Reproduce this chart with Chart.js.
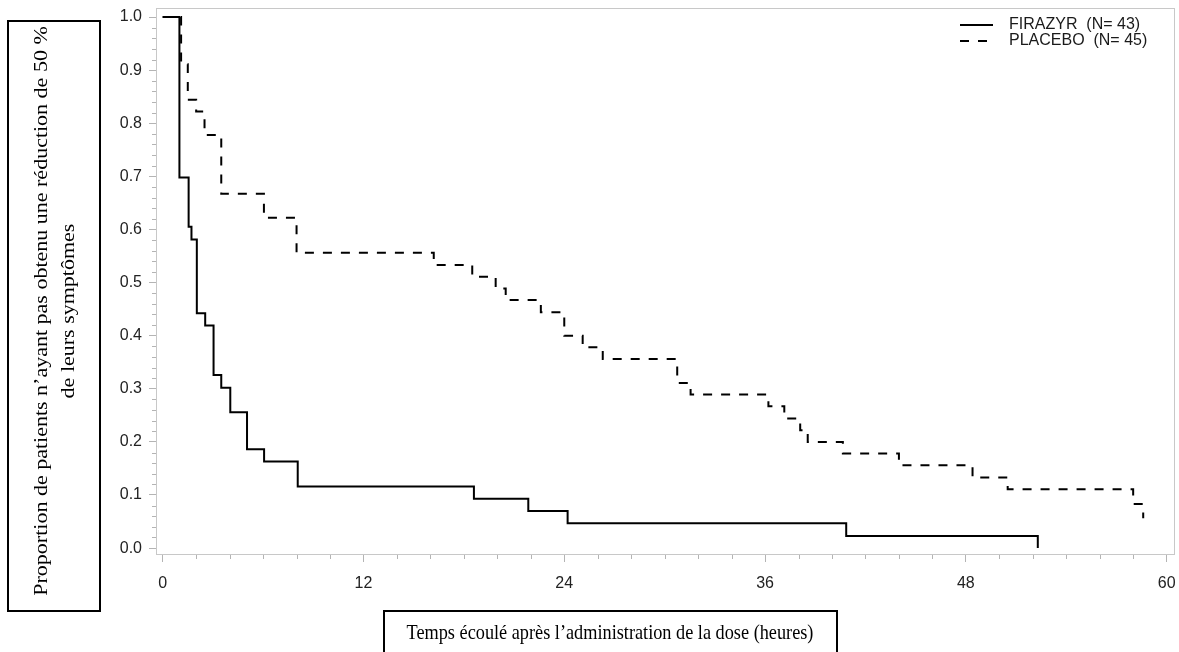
<!DOCTYPE html>
<html lang="fr">
<head>
<meta charset="utf-8">
<title>FIRAZYR vs PLACEBO</title>
<script src="https://cdn.jsdelivr.net/npm/chart.js@4.4.1/dist/chart.umd.min.js"></script>
<style>
  html, body { margin: 0; padding: 0; background: #fff; }
  #wrap { width: 1179px; height: 652px; }
</style>
</head>
<body>
<div id="wrap"><canvas id="km" width="1179" height="652"></canvas></div>
<script>
// Temps (heures) et proportion de patients sans réduction de 50 %
const firazyrTimes  = [0, 1.0, 1.55, 1.72, 2.04, 2.54, 3.04, 3.5, 4.04, 5.04, 6.06, 8.07, 18.6, 21.85, 24.2, 40.85, 52.3];
const firazyrValues = [1, 0.698, 0.605, 0.581, 0.442, 0.419, 0.326, 0.302, 0.256, 0.186, 0.163, 0.116, 0.093, 0.070, 0.047, 0.023, 0];

const placeboTimes  = [0, 1.1, 1.5, 2.0, 2.5, 3.5, 6.05, 8.0, 16.2, 18.5, 19.9, 20.5, 22.6, 24.0, 25.1, 26.3, 30.75, 31.55, 36.2, 37.15, 38.1, 38.55, 40.65, 44.0, 48.4, 50.5, 58.0, 58.6];
const placeboValues = [1, 0.911, 0.844, 0.822, 0.778, 0.667, 0.622, 0.556, 0.533, 0.511, 0.489, 0.467, 0.444, 0.400, 0.378, 0.356, 0.311, 0.289, 0.267, 0.244, 0.222, 0.200, 0.178, 0.156, 0.133, 0.111, 0.083, 0.056];

const seriesLabels = ['FIRAZYR  (N= 43)', 'PLACEBO  (N= 45)'];
const xTickValues = [0, 12, 24, 36, 48, 60];
const yTickValues = [0, 0.1, 0.2, 0.3, 0.4, 0.5, 0.6, 0.7, 0.8, 0.9, 1.0];
const yTitleLines = ['Proportion de patients n’ayant pas obtenu une réduction de 50 %', 'de leurs symptômes'];
const xTitle = 'Temps écoulé après l’administration de la dose (heures)';

const sansFont = '"Liberation Sans", Arial, Helvetica, sans-serif';
const serifFont = '"Liberation Serif", "Times New Roman", serif';

function toPoints(times, values) {
    return times.map((t, i) => ({ x: t, y: values[i] }));
}

// no extra room for the outer tick labels, the layout padding handles it
function noLabelPadding(scale) {
    scale.paddingTop = 0;
    scale.paddingBottom = 0;
    scale.paddingLeft = 0;
    scale.paddingRight = 0;
}

// grey frame + minor ticks
const frameTicks = {
    id: 'frameTicks',
    beforeDatasetsDraw(chart) {
        const { ctx, chartArea: a, scales: { x, y } } = chart;
        ctx.save();
        ctx.strokeStyle = '#c8c8c8';
        ctx.lineWidth = 1;
        ctx.strokeRect(a.left + 0.5, a.top + 0.5, a.right - a.left - 1, a.bottom - a.top - 1);
        ctx.strokeStyle = '#b4b4b4';
        ctx.beginPath();
        for (let v = 2; v < 60; v += 2) {
            if (v % 12 === 0) continue;
            const px = Math.round(x.getPixelForValue(v)) + 0.5;
            ctx.moveTo(px, a.bottom);
            ctx.lineTo(px, a.bottom + 4);
        }
        for (let i = 1; i < 50; i++) {
            if (i % 5 === 0) continue;
            const py = Math.round(y.getPixelForValue(i * 0.02)) + 0.5;
            ctx.moveTo(a.left, py);
            ctx.lineTo(a.left - 4, py);
        }
        ctx.stroke();
        ctx.restore();
    }
};

// legend in the top right corner of the plot
const cornerLegend = {
    id: 'cornerLegend',
    afterDraw(chart) {
        const { ctx, chartArea: a } = chart;
        ctx.save();
        ctx.font = '16px ' + sansFont;
        ctx.textBaseline = 'middle';
        chart.data.datasets.forEach((ds, i) => {
            const yy = a.top + 17 + i * 16;
            ctx.strokeStyle = ds.borderColor;
            ctx.lineWidth = ds.borderWidth;
            ctx.setLineDash(ds.borderDash || []);
            ctx.beginPath();
            ctx.moveTo(a.right - 215, yy);
            ctx.lineTo(a.right - 182, yy);
            ctx.stroke();
            ctx.setLineDash([]);
            ctx.fillStyle = '#1a1a1a';
            ctx.fillText(ds.label, a.right - 166, yy);
        });
        ctx.restore();
    }
};

// boxed axis titles
const boxedTitles = {
    id: 'boxedTitles',
    afterDraw(chart) {
        const { ctx } = chart;
        ctx.save();
        ctx.strokeStyle = '#000';
        ctx.lineWidth = 2;
        ctx.strokeRect(8, 21, 92, 590);
        ctx.strokeRect(384, 611, 453, 60);
        ctx.fillStyle = '#000';
        ctx.font = '22px ' + serifFont;
        ctx.textAlign = 'center';
        ctx.textBaseline = 'middle';

        ctx.save();
        ctx.translate(56, 311);
        ctx.rotate(-Math.PI / 2);
        ctx.scale(1, 0.83);
        yTitleLines.forEach((line, i) => ctx.fillText(line, 0, (i - 0.5) * 32.5));
        ctx.restore();

        ctx.save();
        ctx.translate(610, 633);
        ctx.scale(0.83, 1);
        ctx.fillText(xTitle, 0, 0);
        ctx.restore();
        ctx.restore();
    }
};

new Chart(document.getElementById('km'), {
    type: 'line',
    data: {
        datasets: [
            {
                label: seriesLabels[0],
                data: toPoints(firazyrTimes, firazyrValues),
                borderColor: '#000',
                borderWidth: 2,
                stepped: true,
                pointRadius: 0,
                fill: false
            },
            {
                label: seriesLabels[1],
                data: toPoints(placeboTimes, placeboValues),
                borderColor: '#000',
                borderWidth: 2,
                borderDash: [9, 9],
                stepped: true,
                pointRadius: 0,
                fill: false
            }
        ]
    },
    options: {
        responsive: false,
        devicePixelRatio: 1,
        animation: false,
        layout: { padding: { left: 0, right: 4, top: 8, bottom: 0 } },
        scales: {
            x: {
                type: 'linear',
                min: -0.4,
                max: 60.5,
                afterBuildTicks: (scale) => { scale.ticks = xTickValues.map(v => ({ value: v })); },
                afterFit: (scale) => { scale.height = 97; noLabelPadding(scale); },
                grid: { drawOnChartArea: false, tickLength: 7, color: '#b4b4b4', tickColor: '#b4b4b4' },
                border: { display: false },
                ticks: { color: '#222', padding: 12, font: { family: sansFont, size: 16 }, maxRotation: 0 }
            },
            y: {
                min: -0.013,
                max: 1.017,
                afterBuildTicks: (scale) => { scale.ticks = yTickValues.map(v => ({ value: v })); },
                afterFit: (scale) => { scale.width = 156; noLabelPadding(scale); },
                grid: { drawOnChartArea: false, tickLength: 7, color: '#b4b4b4', tickColor: '#b4b4b4' },
                border: { display: false },
                ticks: {
                    color: '#222',
                    padding: 7,
                    font: { family: sansFont, size: 16 },
                    callback: (v) => Number(v).toFixed(1)
                }
            }
        },
        plugins: {
            legend: { display: false },
            tooltip: { enabled: false }
        }
    },
    plugins: [frameTicks, cornerLegend, boxedTitles]
});
</script>
</body>
</html>
